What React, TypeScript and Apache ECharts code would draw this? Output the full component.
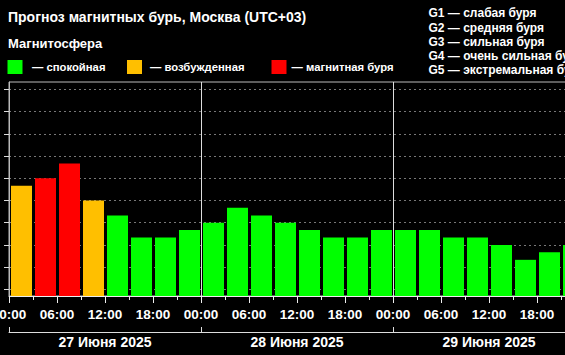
import React, { useEffect, useRef } from 'react';
import * as echarts from 'echarts';

const title = 'Прогноз магнитных бурь, Москва (UTC+03)';
const subtitle = 'Магнитосфера';
const legendLabels = ['— спокойная', '— возбужденная', '— магнитная буря'];
const stormScale = [
  'G1 — слабая буря',
  'G2 — средняя буря',
  'G3 — сильная буря',
  'G4 — очень сильная буря',
  'G5 — экстремальная буря',
];
const days = ['27 Июня 2025', '28 Июня 2025', '29 Июня 2025'];
const slots = ['00:00', '03:00', '06:00', '09:00', '12:00', '15:00', '18:00', '21:00'];
const kpDay1 = [4.67, 5.0, 5.67, 4.0, 3.33, 2.33, 2.33, 2.67];
const kpDay2 = [3.0, 3.67, 3.33, 3.0, 2.67, 2.33, 2.33, 2.67];
const kpDay3 = [2.67, 2.67, 2.33, 2.33, 2.0, 1.33, 1.67, 2.0];
const kpTicks = [0, 1, 2, 3, 4, 5, 6, 7, 8, 9];

const FONT = '"Liberation Sans", Arial, sans-serif';
const GREEN = '#00ff00';
const ORANGE = '#ffbf00';
const RED = '#ff0000';
const legendColors = [GREEN, ORANGE, RED];

const Y_MIN = -0.3;
const Y_MAX = 9.34;

function kpColor(v: number) {
  if (v >= 5) return RED;
  if (v >= 4) return ORANGE;
  return GREEN;
}

export default function App() {
  const ref = useRef<HTMLDivElement>(null);
  useEffect(() => {
    if (!ref.current) return;
    const chart = echarts.init(ref.current, undefined, { renderer: 'svg' });
    const categories: string[] = [];
    days.forEach((d) => slots.forEach((s) => categories.push(d + ' ' + s)));
    const kp = [...kpDay1, ...kpDay2, ...kpDay3];
    const hoursTotal = days.length * 24;

    const squareX = [7.5, 127, 271.5];
    const textX = [32, 150, 291.5];
    const graphic: any[] = [
      {
        type: 'text', left: 8, top: 10,
        style: { text: title, fill: '#fff', font: `bold 14px ${FONT}` },
      },
      {
        type: 'text', left: 8, top: 37,
        style: { text: subtitle, fill: '#fff', font: `bold 13px ${FONT}` },
      },
    ];
    legendLabels.forEach((l, i) => {
      graphic.push({
        type: 'rect', shape: { x: squareX[i], y: 60, width: 15, height: 14 },
        style: { fill: legendColors[i] },
      });
      graphic.push({
        type: 'text', x: textX[i], y: 67,
        style: { text: l, fill: '#fff', font: `bold 11.3px ${FONT}`, verticalAlign: 'middle' },
      });
    });
    stormScale.forEach((s, i) => {
      graphic.push({
        type: 'text', x: 428.5, y: 13.3 + i * 14.2,
        style: { text: s, fill: '#fff', font: `bold 12px ${FONT}`, verticalAlign: 'middle' },
      });
    });

    chart.setOption({
      animation: false,
      backgroundColor: '#000',
      grid: {
        left: 9, right: -20, top: 82, bottom: 59,
        outerBoundsMode: 'none',
        containLabel: false,
        show: true, borderColor: '#bbb', borderWidth: 1, backgroundColor: 'transparent',
      },
      xAxis: [
        { type: 'category', data: categories, show: false, position: 'bottom' },
        {
          type: 'value', min: 0, max: hoursTotal, interval: 6, position: 'bottom',
          axisLine: { show: true, lineStyle: { color: '#eee', width: 1 } },
          axisTick: { show: true, length: 7, lineStyle: { color: '#eee' } },
          minorTick: { show: true, splitNumber: 2, length: 4, lineStyle: { color: '#eee' } },
          splitLine: { show: false },
          axisLabel: {
            show: true, margin: 11, color: '#fff', fontFamily: FONT, fontWeight: 'bold', fontSize: 13.5,
            showMinLabel: true, showMaxLabel: false, hideOverlap: false,
            formatter: (v: number) => slots[(v % 24) / 3],
          },
        },
        {
          type: 'value', min: 0, max: hoursTotal, interval: 24, position: 'bottom',
          axisLine: { show: false }, axisTick: { show: false }, axisLabel: { show: false },
          splitLine: { show: true, lineStyle: { color: '#ddd', width: 1, type: 'solid' } },
        },
        {
          type: 'category', data: days, position: 'bottom', offset: 36,
          axisLine: { show: true, lineStyle: { color: '#ddd', width: 1 } },
          axisTick: { show: true, inside: true, length: 5, lineStyle: { color: '#ddd' } },
          splitLine: { show: false },
          axisLabel: {
            show: true, interval: 0, margin: 3, color: '#fff', fontFamily: FONT,
            fontWeight: 'bold', fontSize: 14,
          },
        },
      ],
      yAxis: {
        type: 'value', min: Y_MIN, max: Y_MAX,
        axisLine: { show: true, lineStyle: { color: '#bbb' } },
        axisTick: { show: true, length: 5, customValues: kpTicks, lineStyle: { color: '#ddd' } },
        axisLabel: { show: false, customValues: kpTicks },
        splitLine: { show: true, lineStyle: { color: '#777', type: [2, 3], width: 1 } },
      },
      graphic,
      series: [
        {
          type: 'custom',
          xAxisIndex: 0,
          yAxisIndex: 0,
          data: kp.map((v, i) => [i, v]),
          encode: { x: 0, y: 1 },
          renderItem: (params: any, api: any) => {
            const idx = api.value(0);
            const v = api.value(1);
            const top = api.coord([idx, v]);
            const bottom = api.coord([idx, Y_MIN]);
            const w = api.size([1, 0])[0];
            const bw = w - 3;
            return {
              type: 'rect',
              shape: { x: top[0] - bw / 2 + 0.5, y: top[1], width: bw, height: bottom[1] - top[1] },
              style: { fill: kpColor(v) },
            };
          },
        },
      ],
    });
    return () => chart.dispose();
  }, []);
  return (
    <div
      ref={ref}
      style={{ position: 'fixed', left: 0, top: 0, width: 565, height: 355, background: '#000' }}
    />
  );
}
